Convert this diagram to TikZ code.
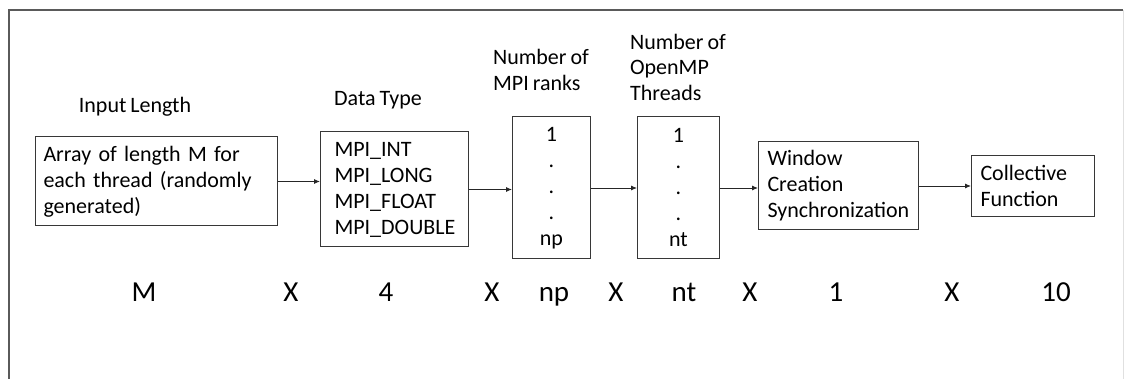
\documentclass[tikz,border=0pt]{standalone}
\usepackage{fontspec}
\setmainfont{Carlito}[WordSpace=0.8]
\usetikzlibrary{arrows.meta,positioning}
\definecolor{framegray}{RGB}{90,90,90}
\definecolor{boxgray}{RGB}{55,55,55}
\tikzset{
  >={Latex[length=6pt,width=5pt]},
  stage/.style={
    rectangle, draw=boxgray, line width=1pt,
    inner xsep=8pt, inner ysep=4pt, align=left,
    font=\fontsize{22}{26}\selectfont
  },
  heading/.style={align=left, font=\fontsize{22}{25.5}\selectfont},
  factor/.style={anchor=base, font=\fontsize{29}{32}\selectfont},
  link/.style={->, line width=0.9pt, draw=black!85},
}

\begin{document}
\begin{tikzpicture}[x=1pt,y=-1pt]
\useasboundingbox (0,0) rectangle (1125,379);
% --- Frame ---
\draw[framegray, line width=1.2pt] (9,379) -- (9,10) -- (1123,10);
\draw[black!12, line width=1pt] (1123,10) -- (1123,379);
% --- Stages ---
\node[stage, anchor=west, text width=226pt, minimum height=89pt] (input) at (35,181.5)
  {Array of length M for\\each thread (randomly\\generated)};
\node[stage, inner xsep=14pt, text width=120pt, minimum height=115pt,
      right=42pt of input, yshift=-8pt] (types)
  {MPI\_INT\\MPI\_LONG\\MPI\_FLOAT\\MPI\_DOUBLE};
\node[stage, align=center, text width=62pt, minimum height=142pt,
      right=43pt of types, yshift=1.5pt] (ranks)
  {1\\.\\.\\.\\np};
\node[stage, align=center, text width=66pt, minimum height=142pt,
      right=46pt of ranks] (threads)
  {1\\.\\.\\.\\nt};
\node[stage, inner xsep=9pt, text width=142pt, minimum height=88pt,
      right=38pt of threads, yshift=2pt] (window)
  {Window\\Creation\\Synchronization};
\node[stage, inner xsep=9pt, text width=105pt, minimum height=61pt,
      right=52pt of window] (collective)
  {Collective\\Function};
% --- Headings ---
\node[heading] (hinput) at (135,107) {Input Length};
\node[heading] (htypes) at (378,100) {Data Type};
\node[heading] (hranks) at (541,70) {Number of\\MPI ranks};
\node[heading] (hthreads) at (678,67) {Number of\\OpenMP\\Threads};
% --- Arrows ---
\draw[link] (input.east) -- (input.east -| types.west);
\draw[link] (types.east) -- (types.east -| ranks.west);
\draw[link] (ranks.east) -- (ranks.east -| threads.west);
\draw[link] (threads.east) -- (threads.east -| window.west);
\draw[link] (window.east) -- (window.east -| collective.west);
% --- Product row ---
\foreach \x/\t [count=\i] in {144/M, 291/X, 386/4, 492/X, 554/np, 616/X,
                              684/nt, 750/X, 836/1, 952/X, 1056/10}
  \node[factor] (f\i) at (\x,302) {\t};
\end{tikzpicture}
\end{document}
